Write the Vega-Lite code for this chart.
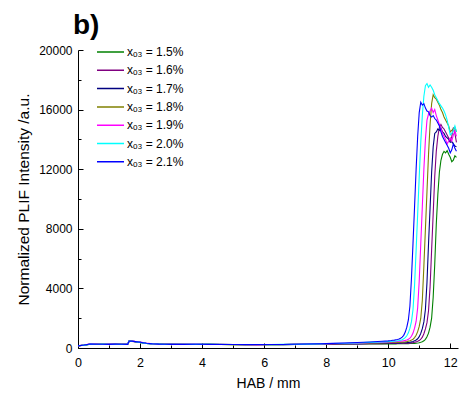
{
  "$schema": "https://vega.github.io/schema/vega-lite/v6.json",
  "width": 380,
  "height": 298,
  "autosize": {"type": "none"},
  "padding": {"left": 78, "top": 50, "right": 16, "bottom": 51},
  "background": "white",
  "config": {
    "view": {"stroke": null},
    "font": "Liberation Sans",
    "axis": {"grid": false, "domainColor": "black", "tickColor": "black", "labelColor": "black", "titleColor": "black", "labelFont": "Liberation Sans", "titleFont": "Liberation Sans", "titleFontWeight": "normal", "labelFlush": false, "labelOverlap": false, "domainWidth": 1, "tickWidth": 1}
  },
  "title": {"text": "b)", "anchor": "start", "frame": "group", "dx": -5, "offset": -18, "fontSize": 28, "fontWeight": "bold", "font": "Liberation Sans", "color": "black", "baseline": "alphabetic"},
  "data": {"values": [
    {"x":0,"s15":150,"s16":140,"s17":160,"s18":145,"s19":155,"s20":150,"s21":140},
    {"x":0.2,"s15":190,"s16":200,"s17":185,"s18":195,"s19":205,"s20":190,"s21":200},
    {"x":0.4,"s15":260,"s16":270,"s17":255,"s18":265,"s19":275,"s20":260,"s21":270},
    {"x":0.6,"s15":255,"s16":250,"s17":260,"s18":245,"s19":265,"s20":255,"s21":250},
    {"x":0.8,"s15":250,"s16":255,"s17":245,"s18":260,"s19":250,"s20":265,"s21":255},
    {"x":1.0,"s15":245,"s16":250,"s17":255,"s18":240,"s19":260,"s20":250,"s21":245},
    {"x":1.2,"s15":250,"s16":240,"s17":245,"s18":255,"s19":240,"s20":250,"s21":260},
    {"x":1.4,"s15":245,"s16":250,"s17":240,"s18":250,"s19":255,"s20":245,"s21":250},
    {"x":1.6,"s15":250,"s16":245,"s17":255,"s18":240,"s19":250,"s20":255,"s21":245},
    {"x":1.65,"s15":470,"s16":480,"s17":460,"s18":475,"s19":465,"s20":480,"s21":470},
    {"x":1.8,"s15":440,"s16":430,"s17":445,"s18":435,"s19":450,"s20":440,"s21":445},
    {"x":2.0,"s15":380,"s16":390,"s17":375,"s18":385,"s19":395,"s20":380,"s21":390},
    {"x":2.2,"s15":310,"s16":320,"s17":305,"s18":315,"s19":325,"s20":310,"s21":320},
    {"x":2.4,"s15":275,"s16":280,"s17":270,"s18":285,"s19":280,"s20":275,"s21":285},
    {"x":2.6,"s15":260,"s16":255,"s17":265,"s18":255,"s19":260,"s20":265,"s21":260},
    {"x":2.8,"s15":250,"s16":255,"s17":245,"s18":255,"s19":250,"s20":245,"s21":255},
    {"x":3.0,"s15":245,"s16":240,"s17":250,"s18":245,"s19":240,"s20":250,"s21":245},
    {"x":3.4,"s15":240,"s16":245,"s17":235,"s18":245,"s19":250,"s20":240,"s21":245},
    {"x":3.8,"s15":235,"s16":240,"s17":245,"s18":235,"s19":240,"s20":245,"s21":250},
    {"x":4.2,"s15":240,"s16":235,"s17":240,"s18":245,"s19":235,"s20":240,"s21":245},
    {"x":4.6,"s15":230,"s16":235,"s17":230,"s18":240,"s19":235,"s20":230,"s21":240},
    {"x":5.0,"s15":225,"s16":230,"s17":235,"s18":225,"s19":230,"s20":235,"s21":230},
    {"x":5.4,"s15":225,"s16":220,"s17":230,"s18":225,"s19":235,"s20":230,"s21":225},
    {"x":5.8,"s15":220,"s16":225,"s17":220,"s18":230,"s19":225,"s20":235,"s21":230},
    {"x":6.2,"s15":220,"s16":225,"s17":230,"s18":220,"s19":230,"s20":225,"s21":235},
    {"x":6.6,"s15":225,"s16":230,"s17":225,"s18":235,"s19":230,"s20":240,"s21":235},
    {"x":7.0,"s15":235,"s16":240,"s17":245,"s18":240,"s19":250,"s20":245,"s21":255},
    {"x":7.4,"s15":245,"s16":250,"s17":255,"s18":255,"s19":265,"s20":260,"s21":270},
    {"x":7.8,"s15":255,"s16":265,"s17":265,"s18":270,"s19":280,"s20":280,"s21":290},
    {"x":8.2,"s15":260,"s16":270,"s17":275,"s18":285,"s19":295,"s20":300,"s21":310},
    {"x":8.6,"s15":265,"s16":275,"s17":285,"s18":295,"s19":310,"s20":320,"s21":335},
    {"x":9.0,"s15":265,"s16":280,"s17":295,"s18":310,"s19":330,"s20":345,"s21":365},
    {"x":9.4,"s15":268,"s16":285,"s17":310,"s18":325,"s19":350,"s20":375,"s21":400},
    {"x":9.8,"s15":270,"s16":295,"s17":325,"s18":345,"s19":375,"s20":410,"s21":450},
    {"x":10.0,"s15":270,"s16":300,"s17":330,"s18":360,"s19":400,"s20":430,"s21":480},
    {"x":10.05,"s15":272,"s16":302,"s17":332,"s18":362,"s19":405,"s20":435,"s21":490},
    {"x":10.1,"s15":274,"s16":304,"s17":334,"s18":365,"s19":410,"s20":440,"s21":500},
    {"x":10.15,"s15":276,"s16":306,"s17":336,"s18":368,"s19":415,"s20":450,"s21":515},
    {"x":10.2,"s15":278,"s16":308,"s17":338,"s18":372,"s19":420,"s20":460,"s21":530},
    {"x":10.25,"s15":280,"s16":310,"s17":340,"s18":376,"s19":430,"s20":470,"s21":550},
    {"x":10.3,"s15":282,"s16":312,"s17":342,"s18":380,"s19":440,"s20":485,"s21":570},
    {"x":10.35,"s15":284,"s16":314,"s17":344,"s18":385,"s19":450,"s20":500,"s21":600},
    {"x":10.4,"s15":286,"s16":316,"s17":346,"s18":390,"s19":460,"s20":530,"s21":655},
    {"x":10.45,"s15":288,"s16":318,"s17":348,"s18":395,"s19":470,"s20":560,"s21":730},
    {"x":10.5,"s15":290,"s16":320,"s17":350,"s18":400,"s19":490,"s20":620,"s21":850},
    {"x":10.55,"s15":292,"s16":322,"s17":355,"s18":410,"s19":510,"s20":700,"s21":1070},
    {"x":10.6,"s15":294,"s16":325,"s17":360,"s18":430,"s19":540,"s20":820,"s21":1400},
    {"x":10.65,"s15":296,"s16":328,"s17":370,"s18":460,"s19":590,"s20":1020,"s21":1880},
    {"x":10.7,"s15":298,"s16":330,"s17":390,"s18":490,"s19":660,"s20":1330,"s21":2820},
    {"x":10.75,"s15":299,"s16":345,"s17":410,"s18":530,"s19":790,"s20":1770,"s21":4680},
    {"x":10.8,"s15":300,"s16":360,"s17":440,"s18":590,"s19":1000,"s20":2580,"s21":7040},
    {"x":10.85,"s15":310,"s16":380,"s17":480,"s18":700,"s19":1330,"s20":4220,"s21":9500},
    {"x":10.9,"s15":320,"s16":410,"s17":540,"s18":860,"s19":1780,"s20":6560,"s21":12000},
    {"x":10.95,"s15":335,"s16":450,"s17":620,"s18":1100,"s19":2700,"s20":9000,"s21":14200},
    {"x":11.0,"s15":355,"s16":500,"s17":760,"s18":1450,"s19":4500,"s20":11500,"s21":15800},
    {"x":11.05,"s15":380,"s16":590,"s17":980,"s18":2000,"s19":7000,"s20":13800,"s21":16500},
    {"x":11.1,"s15":420,"s16":730,"s17":1300,"s18":3200,"s19":9500,"s20":15600,"s21":16300},
    {"x":11.15,"s15":480,"s16":960,"s17":1750,"s18":5500,"s19":12000,"s20":16900,"s21":16400},
    {"x":11.2,"s15":580,"s16":1280,"s17":2600,"s18":8000,"s19":14000,"s20":17600,"s21":16100},
    {"x":11.25,"s15":760,"s16":1700,"s17":4400,"s18":10500,"s19":15300,"s20":17750,"s21":15900},
    {"x":11.3,"s15":1000,"s16":2500,"s17":7000,"s18":13000,"s19":15700,"s20":17500,"s21":15850},
    {"x":11.35,"s15":1400,"s16":4100,"s17":9400,"s18":15000,"s19":15900,"s20":17650,"s21":15600},
    {"x":11.4,"s15":2000,"s16":6600,"s17":11800,"s18":16400,"s19":16100,"s20":17500,"s21":15500},
    {"x":11.45,"s15":3400,"s16":9000,"s17":13500,"s18":17000,"s19":15800,"s20":17300,"s21":15600},
    {"x":11.5,"s15":5600,"s16":11500,"s17":14400,"s18":16800,"s19":16000,"s20":17000,"s21":15400},
    {"x":11.55,"s15":8300,"s16":13200,"s17":14500,"s18":16700,"s19":15600,"s20":16800,"s21":15300},
    {"x":11.6,"s15":10300,"s16":14200,"s17":14700,"s18":16500,"s19":15300,"s20":16600,"s21":15100},
    {"x":11.65,"s15":11800,"s16":14800,"s17":14600,"s18":16300,"s19":15000,"s20":16400,"s21":14900},
    {"x":11.7,"s15":12600,"s16":15000,"s17":14750,"s18":16000,"s19":14700,"s20":16250,"s21":14500},
    {"x":11.75,"s15":13000,"s16":14800,"s17":14500,"s18":15800,"s19":14400,"s20":16100,"s21":14200},
    {"x":11.8,"s15":13200,"s16":14700,"s17":14400,"s18":15500,"s19":14200,"s20":15900,"s21":14000},
    {"x":11.85,"s15":13100,"s16":14500,"s17":14200,"s18":15300,"s19":14000,"s20":15650,"s21":13800},
    {"x":11.9,"s15":13250,"s16":14300,"s17":14100,"s18":15100,"s19":13700,"s20":15300,"s21":13600},
    {"x":11.95,"s15":13000,"s16":14100,"s17":14000,"s18":14900,"s19":13900,"s20":14800,"s21":13400},
    {"x":12.0,"s15":12800,"s16":13900,"s17":13800,"s18":14500,"s19":14100,"s20":14300,"s21":13100},
    {"x":12.05,"s15":12500,"s16":14200,"s17":13850,"s18":14600,"s19":13900,"s20":14400,"s21":13300},
    {"x":12.1,"s15":12600,"s16":14800,"s17":13700,"s18":14700,"s19":14300,"s20":14600,"s21":13700},
    {"x":12.15,"s15":12900,"s16":14400,"s17":13550,"s18":14800,"s19":14600,"s20":14900,"s21":13400},
    {"x":12.2,"s15":12800,"s16":13800,"s17":13500,"s18":14500,"s19":14200,"s20":14500,"s21":13200}
  ]},
  "transform": [{"fold": ["s15", "s16", "s17", "s18", "s19", "s20", "s21"], "as": ["series", "value"]}],
  "layer": [
    {
      "mark": {"type": "line", "strokeWidth": 1.1},
      "encoding": {
        "x": {"field": "x", "type": "quantitative", "scale": {"domain": [0, 12.25], "nice": false, "zero": false},
              "axis": {"orient": "bottom", "values": [0, 2, 4, 6, 8, 10, 12], "title": "HAB / mm", "tickSize": -5, "labelPadding": 13, "labelFontSize": 12.5, "titleFontSize": 14, "titlePadding": 8}},
        "y": {"field": "value", "type": "quantitative", "scale": {"domain": [0, 20000], "nice": false},
              "axis": {"orient": "left", "values": [0, 4000, 8000, 12000, 16000, 20000], "format": "d", "title": "Normalized PLIF Intensity /a.u.", "tickSize": -5, "labelPadding": 11, "labelFontSize": 12, "titleFontSize": 15.5, "titlePadding": 7}},
        "color": {"field": "series", "type": "nominal",
                  "scale": {"domain": ["s15", "s16", "s17", "s18", "s19", "s20", "s21"], "range": ["#008000", "#800080", "#000080", "#808000", "#ff00ff", "#00ffff", "#0000ff"]},
                  "legend": {"orient": "none", "legendX": 18, "legendY": -4, "title": null, "symbolType": "stroke", "symbolSize": 729, "symbolStrokeWidth": 1.5, "labelFontSize": 12, "labelFont": "Liberation Sans", "labelColor": "black", "labelOffset": 2, "rowPadding": 6.3, "clipHeight": 12, "padding": 0,
                             "labelExpr": "'x\u2092\u2083 = ' + substring(datum.label, 1, 2) + '.' + substring(datum.label, 2, 3) + '%'"}}
      }
    },
    {
      "mark": {"type": "line", "opacity": 0},
      "encoding": {
        "x": {"field": "x", "type": "quantitative", "scale": {"domain": [0, 12.25], "nice": false, "zero": false},
              "axis": {"orient": "bottom", "values": [1, 3, 5, 7, 9, 11], "tickSize": -3, "labels": false, "domain": false, "title": null}},
        "y": {"field": "value", "type": "quantitative", "scale": {"domain": [0, 20000], "nice": false},
              "axis": {"orient": "left", "values": [2000, 6000, 10000, 14000, 18000], "tickSize": -3, "labels": false, "domain": false, "title": null}},
        "detail": {"field": "series"}
      }
    }
  ],
  "resolve": {"axis": {"x": "independent", "y": "independent"}}
}
